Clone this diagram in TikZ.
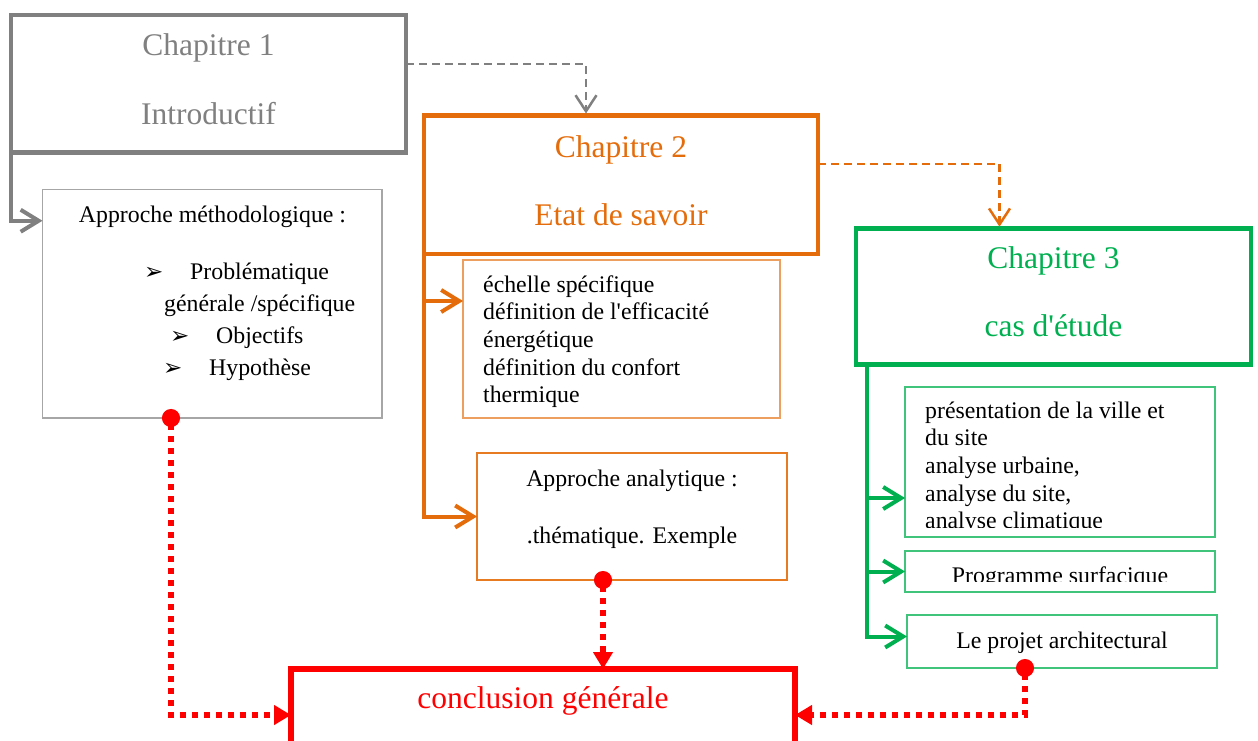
\documentclass[tikz,border=0pt]{standalone}
\usepackage{fontspec}
\setmainfont{Liberation Serif}[Ligatures=TeXOff]
\newfontfamily\bulfont{DejaVu Sans}
\usetikzlibrary{arrows.meta}
\definecolor{cgray}{HTML}{808080}
\definecolor{cgraylt}{HTML}{A6A6A6}
\definecolor{corange}{HTML}{E46C0A}
\definecolor{cgreen}{HTML}{00B050}
\definecolor{cred}{HTML}{FF0000}
\newcommand{\bul}{{\bulfont\fontsize{23}{23}\selectfont ➢}}
\newcommand{\titlefont}{\fontsize{31.5}{36}\selectfont}
\newcommand{\bodyfont}{\fontsize{23.8}{27.7}\selectfont}
\begin{document}
\begin{tikzpicture}[x=1pt,y=-1pt,
  box/.style={draw, rectangle, inner sep=0pt, outer sep=0pt, anchor=north west},
  chap/.style={box, line width=4.5pt},
  sub/.style={box, line width=1.1pt},
  txt/.style={inner sep=0pt, anchor=base, font=\bodyfont},
  ttl/.style={inner sep=0pt, anchor=base, font=\titlefont},
  lnk/.style={line width=4pt, -{Straight Barb[length=18pt,width=22pt]}},
  dlnk/.style={line width=2.5pt, dash pattern=on 8pt off 5pt, shorten >=2pt, -{Straight Barb[length=16pt,width=21pt]}},
  rlnk/.style={cred, line width=6pt, dash pattern=on 6pt off 6pt, shorten <=-9pt, {Circle[length=18pt]}-{Triangle[length=17pt,width=19pt]}}
]
\useasboundingbox (0,0) rectangle (1258,740);
\clip (0,0) rectangle (1258,740);

% chapter boxes
\node[chap, cgray, minimum width=395pt, minimum height=137.5pt] (ch1) at (11,15) {};
\node[ttl, cgray] (ch1a) at (208.5,55) {Chapitre 1};
\node[ttl, cgray] (ch1b) at (208.5,124) {Introductif};

\node[chap, corange, minimum width=394pt, minimum height=138.5pt] (ch2) at (424,115.5) {};
\node[ttl, corange] (ch2a) at (621,157) {Chapitre 2};
\node[ttl, corange] (ch2b) at (621,225) {Etat de savoir};

\node[chap, cgreen, minimum width=395pt, minimum height=135.6pt] (ch3) at (856,228.7) {};
\node[ttl, cgreen] (ch3a) at (1053.5,268) {Chapitre 3};
\node[ttl, cgreen] (ch3b) at (1053.5,336) {cas d'étude};

\node[chap, cred, line width=6pt, minimum width=504pt, minimum height=92pt] (conc) at (291,669) {};
\node[ttl, cred] (conct) at (543,708) {conclusion générale};

% approche methodologique
\node[sub, cgraylt, minimum width=339.5pt, minimum height=228.5pt] (appr) at (42.5,189.5) {};
\node[txt] (apprt) at (212.5,222) {Approche méthodologique :};
\node[txt, anchor=base west] (it1) at (144,279.3) {\makebox[46pt][l]{\bul}Problématique};
\node[txt, anchor=base west] (it1b) at (164,311.7) {générale /spécifique};
\node[txt, anchor=base west] (it2) at (170,343.3) {\makebox[46pt][l]{\bul}Objectifs};
\node[txt, anchor=base west] (it3) at (163,375.7) {\makebox[46pt][l]{\bul}Hypothèse};

% chapter 2 sub boxes
\node[sub, corange!65, minimum width=317pt, minimum height=158pt] (ech) at (463,260) {};
\node[inner sep=0pt, anchor=base west] (echt) at (483,292) {\parbox[t]{290pt}{\bodyfont\raggedright échelle spécifique\\ définition de l'efficacité\\ énergétique\\ définition du confort\\ thermique}};

\node[sub, corange!90, minimum width=310pt, minimum height=127pt] (anl) at (477,453) {};
\node[txt] (anl1) at (632,486) {Approche analytique :};
\node[txt] (anl2) at (632,543) {.thématique. Exemple};

% chapter 3 sub boxes
\node[sub, cgreen!75, minimum width=310pt, minimum height=150pt] (g1) at (905,387) {};
\begin{scope}
\clip (905,387) rectangle (1215,527);
\node[inner sep=0pt, anchor=base west] (g1t) at (925,418) {\parbox[t]{285pt}{\bodyfont\raggedright présentation de la ville et\\ du site\\ analyse urbaine,\\ analyse du site,\\ analyse climatique}};
\end{scope}

\node[sub, cgreen!75, minimum width=310pt, minimum height=41pt] (g2) at (905,551) {};
\begin{scope}
\clip (905,551) rectangle (1215,581);
\node[txt] (g2t) at (1060,583) {Programme surfacique};
\end{scope}

\node[sub, cgreen!75, minimum width=310pt, minimum height=53pt] (g3) at (907,615) {};
\node[txt] (g3t) at (1062,648) {Le projet architectural};

% connectors
\draw[dlnk, cgray] ([yshift=20pt]ch1.east) -| ([xshift=-35pt]ch2.north);
\draw[dlnk, corange] ([yshift=21pt]ch2.east) -| ([xshift=-54pt]ch3.north);

\draw[lnk, cgray] (ch1.south west) |- ([yshift=83pt]appr.west);
\draw[lnk, corange] (ch2.south west) |- ([yshift=38pt]ech.west);
\draw[lnk, corange] (ch2.south west) |- (anl.west);
\coordinate (g0) at ([xshift=11pt]ch3.south west);
\draw[lnk, cgreen] (g0) |- ([yshift=-36pt]g1.west);
\draw[lnk, cgreen] (g0) |- (g2.west);
\draw[lnk, cgreen] (g0) |- ([yshift=5pt]g3.west);

\coordinate (r1) at ([xshift=-41.25pt]appr.south);
\coordinate (r2) at ([xshift=-29pt]anl.south);
\coordinate (r3) at ([xshift=-37pt]g3.south);
\draw[rlnk] (r1) |- (conc.west);
\draw[rlnk] (r2) -- (r2 |- conc.north);
\draw[rlnk] (r3) |- (conc.east);
\end{tikzpicture}
\end{document}
